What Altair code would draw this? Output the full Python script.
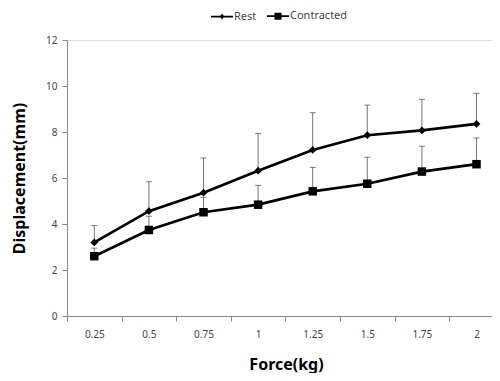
import altair as alt
import pandas as pd

force = [0.25, 0.5, 0.75, 1.0, 1.25, 1.5, 1.75, 2.0]
rest_mean = [3.2, 4.56, 5.36, 6.32, 7.22, 7.86, 8.07, 8.35]
rest_sd = [0.73, 1.28, 1.51, 1.62, 1.62, 1.31, 1.35, 1.33]
contr_mean = [2.6, 3.74, 4.51, 4.84, 5.42, 5.75, 6.28, 6.6]
contr_sd = [0.35, 0.6, 0.65, 0.84, 1.04, 1.15, 1.1, 1.14]
series_names = ["Rest", "Contracted"]
y_ticks = [0, 2, 4, 6, 8, 10, 12]
x_bounds = [0.125, 0.375, 0.625, 0.875, 1.125, 1.375, 1.625, 1.875]

rows = []
for i, f in enumerate(force):
    rows.append({"force": f, "series": "Rest", "mean": rest_mean[i], "top": rest_mean[i] + rest_sd[i]})
    rows.append({"force": f, "series": "Contracted", "mean": contr_mean[i], "top": contr_mean[i] + contr_sd[i]})
df = pd.DataFrame(rows)

FONT = "Noto Sans"
xscale = alt.Scale(domain=[0.125, 2.071], nice=False, zero=False)
yscale = alt.Scale(domain=[0, 12], nice=False)

x_ticks_axis = alt.Axis(orient="bottom", values=x_bounds, labels=False, title=None, tickSize=5,
                        domainColor="#888", tickColor="#888", grid=False)
x_label_axis = alt.Axis(orient="bottom", values=force, ticks=False, domain=False, grid=False, labelPadding=13,
                        labelFontSize=10, labelColor="#444", labelFont=FONT,
                        labelExpr="datum.value == 1 ? '1' : datum.value == 2 ? '2' : format(datum.value, '.3~g')",
                        title="Force(kg)", titleFont=FONT, titleFontSize=16, titleFontWeight="bold",
                        titleColor="#000", titleX=219, titleY=56, titleAlign="center",
                        titleBaseline="bottom")
y_axis = alt.Axis(orient="left", values=y_ticks, grid=False, tickSize=5, domainColor="#888", tickColor="#888",
                  labelFontSize=10, labelColor="#444", labelFont=FONT, labelPadding=5,
                  title="Displacement(mm)", titleFont=FONT, titleFontSize=16, titleFontWeight="bold",
                  titleColor="#000", titleX=-48, titleY=138, titleAngle=-90, titleAlign="center",
                  titleBaseline="middle")

base = alt.Chart(df)
Y = alt.Y("mean:Q", scale=yscale, axis=y_axis)

tick_layer = base.mark_point(opacity=0).encode(
    x=alt.X("force:Q", scale=xscale, axis=x_ticks_axis),
    y=Y,
)

err = base.mark_rule(color="#777", strokeWidth=1).encode(
    x=alt.X("force:Q", scale=xscale, axis=x_label_axis),
    y=Y,
    y2="top:Q",
)
cap = base.mark_tick(color="#444", orient="horizontal", size=6, thickness=1).encode(
    x=alt.X("force:Q", scale=xscale, axis=None),
    y=alt.Y("top:Q", scale=yscale, axis=y_axis),
)

lines = base.mark_line(strokeWidth=2.7, color="#000").encode(
    x=alt.X("force:Q", scale=xscale, axis=None),
    y=Y,
    detail="series:N",
)

pts = base.mark_point(filled=True, opacity=1, color="#000").encode(
    x=alt.X("force:Q", scale=xscale, axis=None),
    y=Y,
    shape=alt.Shape("series:N", scale=alt.Scale(domain=series_names, range=["diamond", "square"]), legend=None),
    size=alt.Size("series:N", scale=alt.Scale(domain=series_names, range=[60, 72]), legend=None),
)

diamond_leg = "M-1,-0.08L1,-0.08L1,0.08L-1,0.08ZM0,-0.26L0.22,0L0,0.26L-0.22,0Z"
square_leg = "M-1,-0.08L1,-0.08L1,0.08L-1,0.08ZM-0.32,-0.32L0.32,-0.32L0.32,0.32L-0.32,0.32Z"

legend_layer = base.mark_point(filled=True, opacity=0, color="#000").encode(
    x=alt.X("force:Q", scale=xscale, axis=None),
    y=Y,
    shape=alt.Shape("series:N", scale=alt.Scale(domain=series_names, range=[diamond_leg, square_leg]),
                    legend=alt.Legend(title=None, orient="none", legendX=143, legendY=-36,
                                      direction="horizontal", symbolSize=484,
                                      symbolFillColor="#000", symbolOpacity=1,
                                      labelFont=FONT, labelFontSize=11, labelColor="#444",
                                      labelOffset=0, columnPadding=7)),
)

chart = alt.layer(tick_layer, err, cap, lines, pts, legend_layer).resolve_axis(
    x="independent").resolve_scale(shape="independent").properties(
    width=425, height=276,
    autosize=alt.AutoSizeParams(type="none"),
    padding={"left": 59, "top": 32, "right": 0, "bottom": 57},
).configure_view(stroke=None).configure(background="white")

chart.save("out.html", embed_options={"renderer": "svg", "actions": False})
